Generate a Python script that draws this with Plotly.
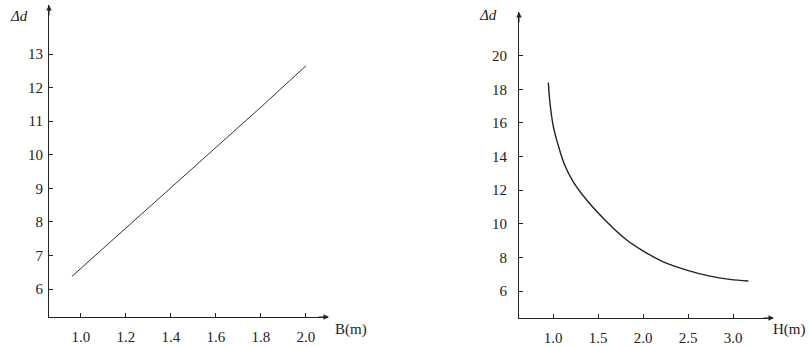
import plotly.graph_objects as go

# Left chart: Δd vs B
b_vals = [0.96, 1.2, 1.4, 1.6, 1.8, 2.0]
dd_b = [6.38, 7.82, 9.0, 10.2, 11.42, 12.65]
b_ticks = [1.0, 1.2, 1.4, 1.6, 1.8, 2.0]
b_ticktext = ["1.0", "1.2", "1.4", "1.6", "1.8", "2.0"]
dd_b_ticks = [6, 7, 8, 9, 10, 11, 12, 13]

# Right chart: Δd vs H
h_vals = [0.946, 0.964, 1.001, 1.057, 1.131, 1.223, 1.372, 1.594, 1.817,
          1.983, 2.223, 2.483, 2.742, 2.964, 3.168]
dd_h = [18.4, 17.2, 15.8, 14.65, 13.45, 12.5, 11.42, 10.13, 9.04,
        8.44, 7.74, 7.25, 6.89, 6.7, 6.6]
h_ticks = [1.0, 1.5, 2.0, 2.5, 3.0]
h_ticktext = ["1.0", "1.5", "2.0", "2.5", "3.0"]
dd_h_ticks = [6, 8, 10, 12, 14, 16, 18, 20]

W, H = 809, 347
FONT = "Liberation Serif"
INK = "#222222"

fig = go.Figure()
fig.add_trace(go.Scatter(x=b_vals, y=dd_b, mode="lines",
                         line=dict(color="#333333", width=1), xaxis="x", yaxis="y",
                         showlegend=False))
fig.add_trace(go.Scatter(x=h_vals, y=dd_h, mode="lines", line_shape="spline",
                         line=dict(color="#222222", width=1.4, smoothing=1),
                         xaxis="x2", yaxis="y2", showlegend=False))

def px_x(p):
    return p / W

def px_y(p):
    return (H - p) / H

axis_common = dict(showgrid=False, zeroline=False, showline=True, linecolor=INK,
                   linewidth=1, ticks="inside", ticklen=4, tickcolor=INK,
                   tickfont=dict(family=FONT, size=15, color=INK), fixedrange=True)

fig.update_layout(
    width=W, height=H,
    margin=dict(l=0, r=0, t=0, b=0),
    paper_bgcolor="white", plot_bgcolor="white",
    xaxis=dict(domain=[px_x(49), px_x(328)], range=[0.858, 2.098], ticklabelstandoff=6,
               tickvals=b_ticks, ticktext=b_ticktext, anchor="y", **axis_common),
    yaxis=dict(domain=[px_y(317), px_y(5)], range=[5.17, 14.46], ticklabelstandoff=2,
               tickvals=dd_b_ticks, anchor="x", **axis_common),
    xaxis2=dict(domain=[px_x(519), px_x(773)], range=[0.62, 3.442], ticklabelstandoff=6,
                tickvals=h_ticks, ticktext=h_ticktext, anchor="y2", **axis_common),
    yaxis2=dict(domain=[px_y(318), px_y(12)], range=[4.4, 22.6], ticklabelstandoff=8,
                tickvals=dd_h_ticks, anchor="x2", **axis_common),
)

anns = []
# arrows at axis ends
for (xh, yh, axo, ayo) in [
    (px_x(49), px_y(5), 0, 12), (px_x(329), px_y(317), -12, 0),
    (px_x(519), px_y(12), 0, 12), (px_x(774), px_y(318), -12, 0),
]:
    anns.append(dict(x=xh, y=yh, xref="paper", yref="paper", ax=axo, ay=ayo,
                     showarrow=True, arrowhead=2, arrowsize=1.1, arrowwidth=1,
                     arrowcolor=INK, text=""))
# axis titles
anns.append(dict(x=px_x(8), y=px_y(16), xref="paper", yref="paper", text="<i>Δd</i>",
                 showarrow=False, xanchor="left", yanchor="middle",
                 font=dict(family=FONT, size=15, color=INK)))
anns.append(dict(x=px_x(477), y=px_y(15), xref="paper", yref="paper", text="<i>Δd</i>",
                 showarrow=False, xanchor="left", yanchor="middle",
                 font=dict(family=FONT, size=15, color=INK)))
anns.append(dict(x=px_x(333), y=px_y(329), xref="paper", yref="paper", text="B(m)",
                 showarrow=False, xanchor="left", yanchor="middle",
                 font=dict(family=FONT, size=15, color=INK)))
anns.append(dict(x=px_x(808), y=px_y(329), xref="paper", yref="paper", text="H(m)",
                 showarrow=False, xanchor="right", yanchor="middle",
                 font=dict(family=FONT, size=15, color=INK)))
fig.update_layout(annotations=anns)

fig.write_html("out.html", config={"displayModeBar": False},
               post_script="document.body.style.margin='0';document.body.style.overflow='hidden';")
